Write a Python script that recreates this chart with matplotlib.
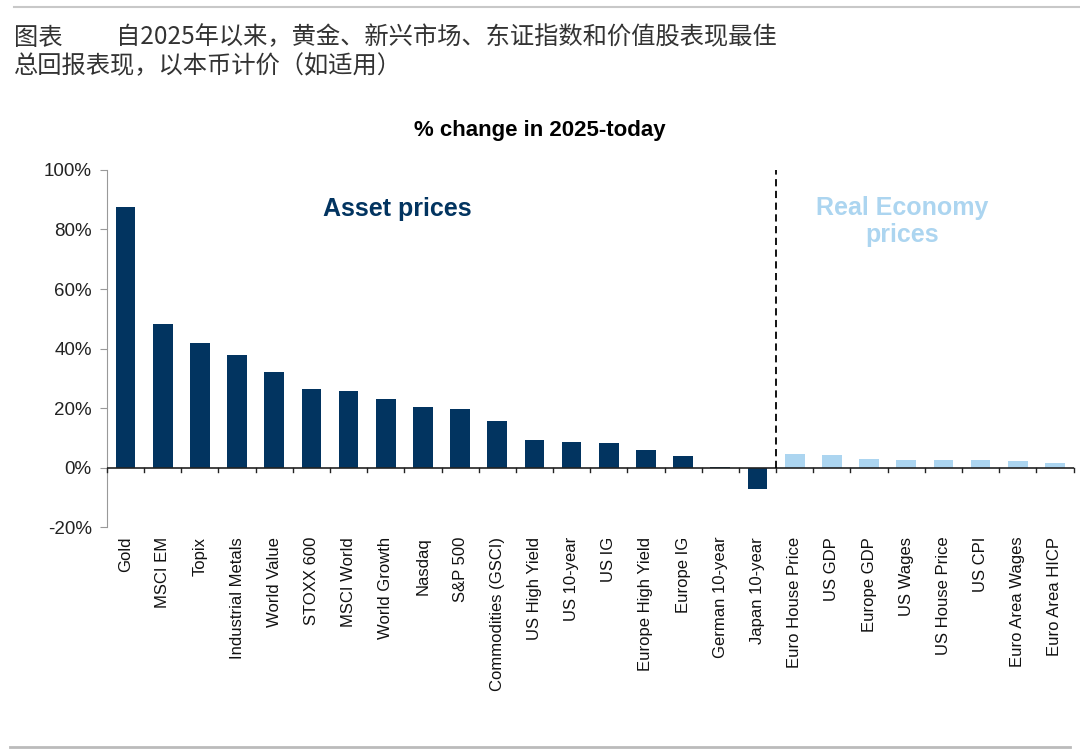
import matplotlib
matplotlib.use("Agg")
import matplotlib.pyplot as plt
from matplotlib.lines import Line2D

plt.rcParams['font.family'] = ['Liberation Sans', 'DejaVu Sans']

asset_labels = ["Gold", "MSCI EM", "Topix", "Industrial Metals", "World Value",
                "STOXX 600", "MSCI World", "World Growth", "Nasdaq", "S&P 500",
                "Commodities (GSCI)", "US High Yield", "US 10-year", "US IG",
                "Europe High Yield", "Europe IG", "German 10-year", "Japan 10-year"]
asset_values = [87.7, 48.4, 42.0, 37.7, 32.2, 26.5, 25.7, 23.2, 20.5, 19.6,
                15.7, 9.3, 8.7, 8.4, 5.9, 4.0, 0.1, -7.3]

econ_labels = ["Euro House Price", "US GDP", "Europe GDP", "US Wages",
               "US House Price", "US CPI", "Euro Area Wages", "Euro Area HICP"]
econ_values = [4.5, 4.2, 3.0, 2.6, 2.5, 2.5, 2.2, 1.4]

navy = "#023460"
light = "#acd5f0"

fig = plt.figure(figsize=(10.8, 7.52), dpi=100)
ax = fig.add_axes([0.099, 0.299, 0.895, 0.475])

n_a = len(asset_labels)
xa = list(range(n_a))
xe = list(range(n_a, n_a + len(econ_labels)))
ax.bar(xa, asset_values, width=0.53, color=navy, zorder=2)
ax.bar(xe, econ_values, width=0.53, color=light, zorder=2)

ax.set_xlim(-0.5, n_a + len(econ_labels) - 0.5)
ax.set_ylim(-20, 100)
ax.set_yticks(range(-20, 101, 20))
ax.set_yticklabels([f"{v}%" for v in range(-20, 101, 20)], fontsize=13.5,
                   color='#222222')
ax.tick_params(axis='y', direction='out', length=5, color='#999999', pad=6)

# category labels
all_labels = asset_labels + econ_labels
ax.set_xticks(range(len(all_labels)))
ax.set_xticklabels(all_labels, rotation=90, fontsize=12, color='#111111')
ax.tick_params(axis='x', length=0, pad=7)

for s in ['top', 'right', 'bottom']:
    ax.spines[s].set_visible(False)
ax.spines['left'].set_color('#999999')

# zero line with separator ticks
ax.axhline(0, color='#222222', lw=1.2, zorder=3)
for b in range(len(all_labels) + 1):
    ax.plot([b - 0.5, b - 0.5], [0, -1.6], color='#222222', lw=1, zorder=3,
            clip_on=False)

# divider
ax.plot([n_a - 0.5, n_a - 0.5], [0, 100], color='black', lw=1.3,
        linestyle=(0, (4, 2.5)), zorder=3)

ax.text(7.3, 87, "Asset prices", color=navy, fontsize=18, fontweight='bold',
        ha='center', va='center')
ax.text(20.9, 82.7, "Real Economy\nprices", color=light, fontsize=18,
        fontweight='bold', ha='center', va='center', linespacing=1.2)

fig.text(0.5, 0.827, "% change in 2025-today", fontsize=16, fontweight='bold',
         ha='center', va='center')

cjk = ['Noto Sans CJK SC', 'DejaVu Sans']
fig.text(0.013, 0.950, "图表", fontsize=17.5, family=cjk, color='#333333',
         va='center')
fig.text(0.107, 0.950, "自2025年以来，黄金、新兴市场、东证指数和价值股表现最佳",
         fontsize=17.5, family=cjk, color='#333333', va='center')
fig.text(0.013, 0.912, "总回报表现，以本币计价（如适用）", fontsize=17.5,
         family=cjk, color='#333333', va='center')

fig.add_artist(Line2D([0.013, 1.0], [0.991, 0.991], color='#c8c8c8', lw=1.5))
fig.add_artist(Line2D([0.009, 0.991], [0.007, 0.007], color='#bbbbbb', lw=2))

fig.savefig("out.png", dpi=100)
